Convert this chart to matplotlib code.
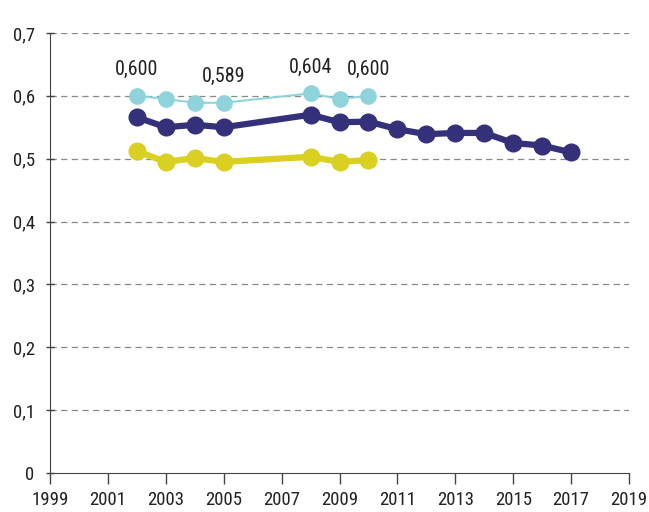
import matplotlib.pyplot as plt
from matplotlib.ticker import FuncFormatter
from matplotlib import font_manager

# data
years_short = [2002, 2003, 2004, 2005, 2008, 2009, 2010]
light_blue = [0.600, 0.595, 0.589, 0.589, 0.604, 0.595, 0.600]
yellow = [0.512, 0.495, 0.501, 0.495, 0.503, 0.495, 0.498]
years_long = [2002, 2003, 2004, 2005, 2008, 2009, 2010, 2011, 2012, 2013, 2014, 2015, 2016, 2017]
navy = [0.566, 0.550, 0.554, 0.550, 0.570, 0.558, 0.559, 0.547, 0.539, 0.541, 0.541, 0.525, 0.521, 0.510]
label_years = [2002, 2005, 2008, 2010]
label_texts = ["0,600", "0,589", "0,604", "0,600"]

# pick a condensed font if one is installed
names = {f.name for f in font_manager.fontManager.ttflist}
fam = 'DejaVu Sans'
for cand in ['Roboto Condensed', 'Archivo Narrow', 'Barlow Condensed', 'Asap Condensed']:
    if cand in names:
        fam = cand
        break
plt.rcParams['font.family'] = [fam, 'DejaVu Sans']

fig = plt.figure(figsize=(6.49, 5.12), dpi=100)
ax = fig.add_axes([50 / 649, 39 / 512, 579 / 649, 440 / 512])

for y in [0.1, 0.2, 0.3, 0.4, 0.5, 0.6, 0.7]:
    ax.axhline(y, color='#888888', lw=0.9, ls=(0, (5, 3.5)), zorder=0)

ax.plot(years_short, light_blue, color='#8fd4da', lw=1.5, marker='o', ms=11, zorder=3)
ax.plot(years_long, navy, color='#35307a', lw=4.5, marker='o', ms=12, zorder=3)
ax.plot(years_short, yellow, color='#d9d022', lw=4.5, marker='o', ms=12, zorder=3)

for yr, txt in zip(label_years, label_texts):
    v = light_blue[years_short.index(yr)]
    ax.annotate(txt, (yr, v), xytext=(0, 12), textcoords='offset points',
                ha='center', va='bottom', fontsize=14.5, color='#222222')

ax.set_xlim(1999, 2019)
ax.set_ylim(0, 0.7)
ax.set_xticks(range(1999, 2020, 2))
ax.set_yticks([i / 10 for i in range(8)])
ax.yaxis.set_major_formatter(FuncFormatter(lambda v, p: "0" if v == 0 else f"{v:.1f}".replace('.', ',')))

for s in ['top', 'right']:
    ax.spines[s].set_visible(False)
ax.spines['left'].set_color('#444444')
ax.spines['bottom'].set_color('#444444')
ax.tick_params(axis='y', length=6, width=1, direction='inout', color='#444444', pad=8, labelsize=13.5, labelcolor='#222222')
ax.tick_params(axis='x', length=8, width=1, direction='out', color='#444444', pad=5, labelsize=13.5, labelcolor='#222222')

fig.savefig('out.png', dpi=100)
